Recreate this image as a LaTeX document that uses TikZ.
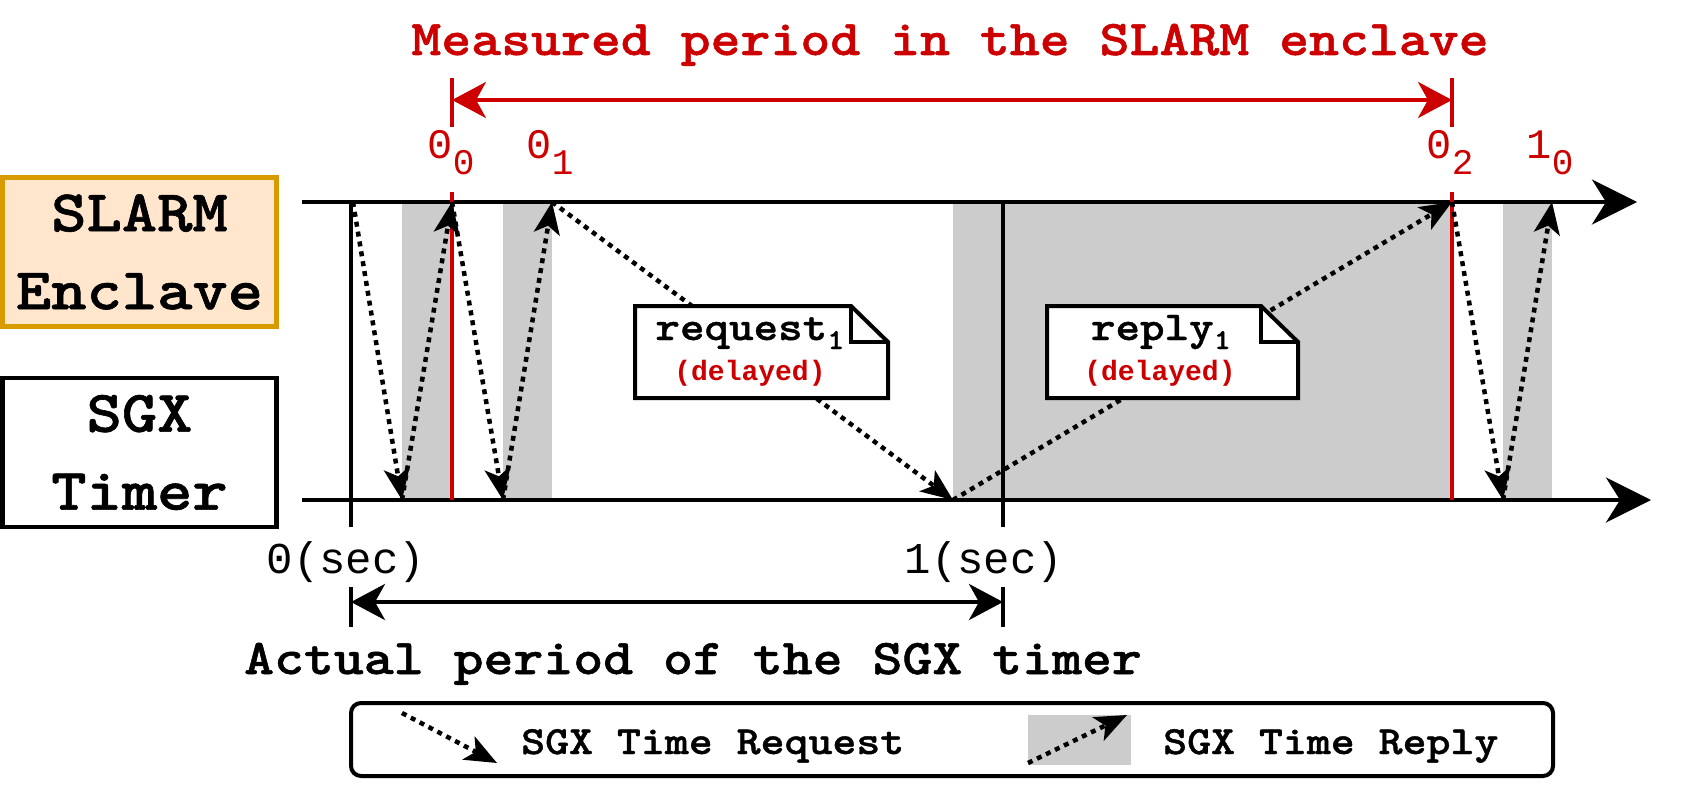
\documentclass[tikz,border=0pt]{standalone}
\usepackage{fontspec}
\usetikzlibrary{arrows.meta}
\newfontfamily\courfont{lmmonolt10-bold.otf}[FakeStretch=1.14,FakeBold=1]
\newfontfamily\lblfont{Liberation Mono}
\definecolor{darkred}{HTML}{CC0000}
\definecolor{boxorange}{HTML}{D79B00}
\definecolor{boxfill}{HTML}{FFE6CC}
\definecolor{shadegray}{HTML}{CCCCCC}
\newcommand{\tsub}[1]{\raisebox{-16pt}{\fontsize{36}{36}\selectfont #1}}
\newcommand{\nsub}[1]{\raisebox{-9pt}{\fontsize{29}{29}\selectfont #1}}

\begin{document}
\begin{tikzpicture}[x=1pt,y=-1pt,
 lane/.style={line width=4.5pt,minimum width=274pt,minimum height=149pt,align=center,inner sep=0pt,font=\courfont\fontsize{59}{78}\selectfont},
 timeline/.style={line width=4.5pt,-{Stealth[length=45pt,width=45pt,inset=14pt]}},
 span/.style={line width=4pt,{Stealth[length=34pt,width=36pt,inset=10pt]}-{Stealth[length=34pt,width=36pt,inset=10pt]}},
 msg/.style={line width=4.5pt,dash pattern=on 5pt off 5pt,-{Stealth[length=32pt,width=26pt,inset=8pt]}},
 tlabel/.style={text=darkred,anchor=base,inner sep=0pt,font=\lblfont\fontsize{42}{42}\selectfont},
 seclbl/.style={anchor=base,inner sep=0pt,font=\lblfont\fontsize{44}{44}\selectfont},
 note/.style={fill=white,line width=4pt},
 notetxt/.style={anchor=base,inner sep=0pt,font=\courfont\fontsize{41}{41}\selectfont},
 delay/.style={anchor=base,inner sep=0pt,text=darkred,font=\lblfont\bfseries\fontsize{28}{28}\selectfont},
 legtxt/.style={anchor=base west,inner sep=0pt,font=\courfont\fontsize{40}{40}\selectfont}]
 \useasboundingbox (0,0) rectangle (1695,800);
 \coordinate (s0) at (353,202);
 \coordinate (t00) at (452,202);
 \coordinate (t01) at (552,202);
 \coordinate (t02) at (1452,202);
 \coordinate (t10) at (1552,202);
 \coordinate (r1) at (402,500);
 \coordinate (r2) at (503,500);
 \coordinate (r3) at (953,500);
 \coordinate (r4) at (1503,500);
 \fill[shadegray] (r1) rectangle (t00);
 \fill[shadegray] (r2) rectangle (t01);
 \fill[shadegray] (r3) rectangle (t02);
 \fill[shadegray] (r4) rectangle (t10);
 \coordinate (ea) at (302,202);
 \coordinate (ee) at (1637,202);
 \coordinate (ga) at (302,500);
 \coordinate (ge) at (1651,500);
 \draw[timeline] (ea) -- (ee);
 \draw[timeline] (ga) -- (ge);
 \draw[line width=4pt] (351,202) -- (351,527);
 \draw[line width=4pt] (1003,202) -- (1003,527);
 \draw[darkred,line width=3.5pt] (452,192) -- (452,500);
 \draw[darkred,line width=3.5pt] (1452,192) -- (1452,500);
 \draw[darkred,line width=4pt] (452,78) -- (452,127);
 \draw[darkred,line width=4pt] (1452,78) -- (1452,127);
 \draw[span,darkred] (452,100) -- (1452,100);
 \draw[msg] (s0) -- (r1);
 \draw[msg] (r1) -- (t00);
 \draw[msg] (t00) -- (r2);
 \draw[msg] (r2) -- (t01);
 \draw[msg] (t01) -- (r3);
 \draw[msg] (r3) -- (t02);
 \draw[msg] (t02) -- (r4);
 \draw[msg] (r4) -- (t10);
 \coordinate (rqsw) at (635,398);
 \coordinate (rqne) at (888,306);
 \filldraw[note] (rqsw) |- ([xshift=-37pt]rqne) -- ([yshift=-36pt]rqne) -- (rqne |- rqsw) -- cycle;
 \draw[note,fill=none] ([xshift=-37pt]rqne) |- ([yshift=-36pt]rqne);
 \coordinate (rpsw) at (1047,398);
 \coordinate (rpne) at (1298,306);
 \filldraw[note] (rpsw) |- ([xshift=-37pt]rpne) -- ([yshift=-36pt]rpne) -- (rpne |- rpsw) -- cycle;
 \draw[note,fill=none] ([xshift=-37pt]rpne) |- ([yshift=-36pt]rpne);
 \node[notetxt] (rq) at (750,340) {request\nsub{1}};
 \node[delay] (rqd) at (750,380) {(delayed)};
 \node[notetxt] (rp) at (1161,340) {reply\nsub{1}};
 \node[delay] (rpd) at (1160,380) {(delayed)};
 \node[lane,draw=boxorange,fill=boxfill] (enc) at (139.5,252) {SLARM\\Enclave};
 \node[lane,draw=black] (tmr) at (139.5,452.5) {SGX\\Timer};
 \node[tlabel] (l00) at (451,158) {0\tsub{0}};
 \node[tlabel] (l01) at (550,158) {0\tsub{1}};
 \node[tlabel] (l02) at (1450,158) {0\tsub{2}};
 \node[tlabel] (l10) at (1550,158) {1\tsub{0}};
 \node[anchor=base,inner sep=0pt,text=darkred,font=\courfont\fontsize{50}{50}\selectfont] (ttl) at (950,55) {Measured period in the SLARM enclave};
 \node[seclbl] (sec0) at (346,573) {0(sec)};
 \node[seclbl] (sec1) at (984,573) {1(sec)};
 \draw[line width=4pt] (351,587) -- (351,627);
 \draw[line width=4pt] (1003,587) -- (1003,627);
 \draw[span] (351,602) -- (1003,602);
 \node[anchor=base,inner sep=0pt,font=\courfont\fontsize{50}{50}\selectfont] (act) at (693,674) {Actual period of the SGX timer};
 \draw[line width=4pt,rounded corners=10pt] (351,703) rectangle (1553,776);
 \coordinate (lq1) at (402,713);
 \coordinate (lq2) at (497,763);
 \draw[msg] (lq1) -- (lq2);
 \fill[shadegray] (1028,715) rectangle (1131,765);
 \coordinate (lp1) at (1028,763);
 \coordinate (lp2) at (1127,715);
 \draw[msg] (lp1) -- (lp2);
 \node[legtxt] (lqt) at (521,754) {SGX Time Request};
 \node[legtxt] (lpt) at (1163,754) {SGX Time Reply};
\end{tikzpicture}
\end{document}
